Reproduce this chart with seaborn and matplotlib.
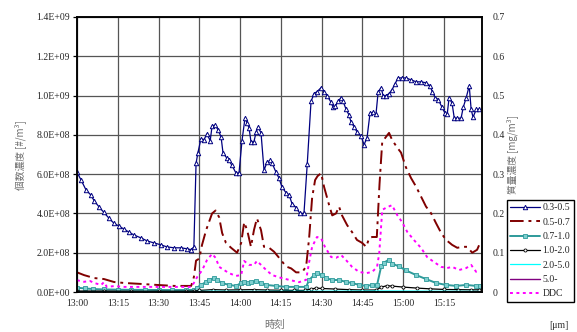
import numpy as np
import pandas as pd
import matplotlib
matplotlib.use("Agg")
import matplotlib.pyplot as plt
import seaborn as sns
from matplotlib.ticker import FuncFormatter

# ---------------- data (minutes after 13:00) ----------------
t_03 = [0, 1.5, 3.3, 5, 6.3, 8, 9.9, 11.8, 13.6, 15.5, 17.3, 19.1, 21, 23.6, 25.8, 28.3, 30.9, 33,
        35.7, 38.3, 40.5, 42, 43, 43.8, 44.5, 45.6, 46.7, 47.8, 49, 49.7, 50.8, 51.9, 53, 53.7, 55.2,
        55.9, 57, 58.5, 59.6, 60.7, 61.8, 62.6, 63.3, 64, 65.1, 65.9, 66.6, 67.7, 68.8, 69.9, 71,
        71.8, 73.2, 74.3, 75.4, 76.9, 78, 79.1, 80.6, 82, 83.5, 84.7, 86.1, 87.2, 88.3, 89.8, 90.9,
        92, 93.5, 94.2, 95, 96, 97.2, 97.9, 99, 100.1, 100.8, 102, 103, 104.5, 105.6, 106.7, 107.8,
        108.9, 110, 110.8, 111.9, 112.6, 113.7, 114.8, 115.9, 117, 118.1, 119.6, 121, 122.9, 124.8,
        126.6, 128.4, 129.9, 130.7, 131.8, 132.9, 134.3, 135.4, 136.2, 136.9, 138, 138.8, 139.9,
        141.3, 142.1, 143.2, 144.3, 145, 145.7, 146.9, 148]
v_03 = [6.1e8, 5.7e8, 5.2e8, 4.95e8, 4.65e8, 4.35e8, 4.05e8, 3.75e8, 3.5e8, 3.35e8, 3.2e8, 3.05e8,
        2.9e8, 2.75e8, 2.6e8, 2.5e8, 2.4e8, 2.3e8, 2.25e8, 2.25e8, 2.2e8, 2.15e8, 2.3e8, 6.55e8,
        7.1e8, 7.8e8, 7.75e8, 8.05e8, 7.7e8, 8.45e8, 8.5e8, 8.25e8, 7.9e8, 7.1e8, 6.8e8, 6.7e8,
        6.45e8, 6.05e8, 6.05e8, 7.7e8, 8.85e8, 8.6e8, 8.35e8, 7.65e8, 7.65e8, 8.15e8, 8.4e8, 8.1e8,
        6.2e8, 6.6e8, 6.7e8, 6.55e8, 6.1e8, 5.8e8, 5.35e8, 5.05e8, 4.95e8, 4.5e8, 4.3e8, 4.0e8,
        4.0e8, 6.5e8, 9.7e8, 1.01e9, 1.02e9, 1.04e9, 1.02e9, 1.0e9, 9.65e8, 9.4e8, 9.45e8, 9.7e8,
        9.9e8, 9.7e8, 9.3e8, 9.0e8, 8.65e8, 8.4e8, 8.15e8, 7.95e8, 7.5e8, 7.85e8, 9.1e8, 9.15e8,
        9.05e8, 1.02e9, 1.04e9, 1.0e9, 1.0e9, 1.01e9, 1.03e9, 1.06e9, 1.09e9, 1.09e9, 1.09e9,
        1.08e9, 1.07e9, 1.07e9, 1.065e9, 1.05e9, 1.02e9, 9.9e8, 9.8e8, 9.4e8, 9.1e8, 9.05e8, 9.9e8,
        9.6e8, 8.85e8, 8.85e8, 8.85e8, 9.4e8, 9.9e8, 1.05e9, 9.3e8, 8.9e8, 9.3e8, 9.3e8]

t_05 = [0, 2.6, 6.3, 9.9, 13.6, 17.3, 23.6, 29.4, 35.7, 42, 43, 43.8, 45, 46, 47.5, 49.7, 51, 52.3,
        53.4, 54.8, 56.7, 58.9, 60.4, 61.5, 62.6, 64, 65.1, 66.2, 67.7, 68.8, 70.7, 72.5, 74.3, 76.9,
        78.8, 80.6, 82.8, 84.3, 85.4, 86.5, 87.6, 88.5, 89.8, 90.9, 92.7, 93.9, 95.3, 96.4, 97.5,
        99.4, 101.2, 103, 104.9, 106.4, 107.5, 108.6, 110.3, 111.3, 112.3, 113.7, 114.8, 115.9,
        117.8, 119.2, 121, 122.9, 124.8, 126.6, 128.4, 130.3, 132.1, 134, 135.8, 138, 139.9, 141.7,
        143.5, 145.4, 147.2, 148.3]
v_05 = [1.0e8, 8.6e7, 7.1e7, 6.6e7, 5.1e7, 4.6e7, 4.1e7, 3.6e7, 3.1e7, 3.1e7, 7.6e7, 1.6e8, 1.7e8,
        2.4e8, 3.15e8, 4.0e8, 4.15e8, 3.8e8, 3.0e8, 2.5e8, 2.25e8, 2.0e8, 2.5e8, 3.55e8, 3.15e8,
        2.3e8, 3.15e8, 3.75e8, 3.15e8, 2.3e8, 2.25e8, 2.05e8, 1.75e8, 1.3e8, 1.2e8, 1.0e8, 1.0e8,
        1.3e8, 2.75e8, 4.8e8, 5.7e8, 5.9e8, 6.05e8, 5.35e8, 4.45e8, 3.9e8, 4.0e8, 4.35e8, 3.9e8,
        3.4e8, 3.05e8, 2.65e8, 2.5e8, 2.3e8, 2.75e8, 2.8e8, 2.8e8, 5.5e8, 7.65e8, 7.9e8, 8.1e8,
        7.75e8, 7.35e8, 7.1e8, 6.35e8, 5.8e8, 5.35e8, 4.85e8, 4.35e8, 4.0e8, 3.5e8, 3.0e8, 2.65e8,
        2.4e8, 2.25e8, 2.3e8, 2.3e8, 2.0e8, 2.15e8, 2.5e8]

t_07 = [0, 3, 6, 10, 15, 20, 25, 30, 35, 40, 43, 44, 45.5, 47.5, 48.6, 50.4, 51.5, 53.4, 55.9, 58.5,
        60.4, 61.5, 63, 64, 65.9, 67.7, 69.6, 73.2, 76.9, 80.6, 84.3, 85.4, 87.2, 88.3, 90.2, 91.6,
        93.9, 96.5, 99, 101.2, 103.8, 106.4, 108.6, 110.4, 111.9, 113, 114.8, 115.9, 118.5, 121,
        124.8, 128.4, 132.1, 135.8, 139.5, 143.2, 146.9, 148.3]
v_07 = [2.2e7, 1.8e7, 1.5e7, 1.3e7, 1.2e7, 1.1e7, 1.1e7, 1.0e7, 1.0e7, 1.0e7, 1.1e7, 2.0e7, 3.5e7,
        5.1e7, 6.1e7, 7.1e7, 6.1e7, 4.6e7, 3.6e7, 3.1e7, 4.6e7, 5.1e7, 4.6e7, 5.1e7, 5.6e7, 4.6e7,
        3.6e7, 3.1e7, 2.6e7, 2.6e7, 2.6e7, 6.1e7, 8.6e7, 9.6e7, 8.6e7, 7.1e7, 6.1e7, 6.1e7, 5.1e7,
        4.6e7, 3.6e7, 3.1e7, 3.6e7, 3.6e7, 1.3e8, 1.5e8, 1.65e8, 1.45e8, 1.3e8, 1.1e8, 8.6e7,
        6.6e7, 4.6e7, 3.6e7, 3.1e7, 3.6e7, 3.1e7, 3.2e7]

t_10 = [0, 10, 20, 30, 40, 43, 45, 50, 55, 60, 65, 70, 75, 80, 84, 86, 88, 90, 95, 100, 105, 110,
        112, 114, 116, 120, 125, 130, 135, 140, 145, 148]
v_10 = [5e6, 5e6, 4e6, 4e6, 4e6, 5e6, 8e6, 1.2e7, 1.0e7, 1.1e7, 1.2e7, 1.0e7, 9e6, 8e6, 8e6, 1.5e7,
        2.0e7, 1.8e7, 1.5e7, 1.2e7, 1.0e7, 1.0e7, 2.5e7, 3.2e7, 3.0e7, 2.5e7, 2.0e7, 1.6e7, 1.3e7,
        1.2e7, 1.1e7, 1.1e7]

t_20 = [0, 43, 50, 60, 90, 115, 148]
v_20 = [2e6, 2e6, 4e6, 3e6, 4e6, 5e6, 3e6]

t_50 = [0, 74, 148]
v_50 = [5e5, 5e5, 5e5]

t_ddc = [0, 2.6, 4.8, 6.3, 8.9, 9.9, 11, 13.6, 17.3, 23.6, 29.4, 35.7, 42, 43, 44.2, 46, 47.8, 49.7,
         51, 52.3, 54.1, 55.9, 58.5, 60.4, 61.5, 63.3, 65.1, 66.2, 67.7, 69.6, 71.8, 75, 78, 81.7,
         84.3, 85.4, 86.5, 88.3, 89.8, 91.2, 93.5, 95.3, 97.2, 99, 101.2, 103.8, 106.4, 108.6,
         110.4, 111.2, 112.3, 114.1, 115.9, 117.8, 119.6, 121.5, 124, 126.6, 128.8, 131.4, 134,
         136.2, 138, 140.6, 143.2, 145, 146.9, 148.3]
v_ddc = [0.030, 0.026, 0.028, 0.023, 0.018, 0.025, 0.013, 0.015, 0.013, 0.013, 0.013, 0.013, 0.013,
         0.023, 0.038, 0.055, 0.081, 0.097, 0.087, 0.064, 0.056, 0.048, 0.041, 0.043, 0.079, 0.069,
         0.069, 0.079, 0.069, 0.056, 0.043, 0.036, 0.031, 0.025, 0.031, 0.076, 0.115, 0.140, 0.137,
         0.115, 0.089, 0.087, 0.094, 0.081, 0.064, 0.051, 0.048, 0.051, 0.064, 0.099, 0.209, 0.216,
         0.221, 0.196, 0.178, 0.153, 0.132, 0.112, 0.089, 0.076, 0.064, 0.061, 0.064, 0.056, 0.061,
         0.069, 0.051, 0.050]

xtick_pos = [0, 15, 30, 45, 60, 75, 90, 105, 120, 135]
xtick_labels = ["13:00", "13:15", "13:30", "13:45", "14:00", "14:15", "14:30", "14:45", "15:00", "15:15"]
legend_labels = ["0.3-0.5", "0.5-0.7", "0.7-1.0", "1.0-2.0", "2.0-5.0", "5.0-", "DDC"]

# ---------------- style ----------------
sns.set_style("white")
plt.rcParams['font.family'] = ['Liberation Serif', 'Noto Sans CJK JP', 'DejaVu Sans']
plt.rcParams['axes.unicode_minus'] = False

W, H = 577, 332
fig = plt.figure(figsize=(W / 100, H / 100), dpi=100)
L, R, T, B = 77, 482, 17, 292
ax = fig.add_axes([L / W, 1 - B / H, (R - L) / W, (B - T) / H])
ax2 = ax.twinx()

sns.lineplot(x=t_03, y=v_03, ax=ax, color="#000080", lw=0.9, marker="^", markersize=3.2,
             markerfacecolor="white", markeredgecolor="#000080", markeredgewidth=0.7,
             label=legend_labels[0], legend=False)
sns.lineplot(x=t_05, y=v_05, ax=ax, color="#800000", lw=1.4, dashes=False,
             label=legend_labels[1], legend=False, linestyle=(0, (7, 2.5, 1.5, 2.5)))
sns.lineplot(x=t_07, y=v_07, ax=ax, color="#2E9A9A", lw=1.4, marker="s", markersize=2.2,
             markerfacecolor="#7FCFCF", markeredgecolor="#2E9A9A", markeredgewidth=0.6,
             label=legend_labels[2], legend=False)
sns.lineplot(x=t_10, y=v_10, ax=ax, color="black", lw=0.9, marker="o", markersize=2.2,
             markerfacecolor="white", markeredgecolor="black", markeredgewidth=0.6,
             label=legend_labels[3], legend=False)
sns.lineplot(x=t_20, y=v_20, ax=ax, color="#00FFFF", lw=0.9, label=legend_labels[4], legend=False)
sns.lineplot(x=t_50, y=v_50, ax=ax, color="#800080", lw=1.0, label=legend_labels[5], legend=False)
sns.lineplot(x=t_ddc, y=v_ddc, ax=ax2, color="#FF00FF", lw=1.4, label=legend_labels[6],
             legend=False, linestyle=(0, (1.5, 1.8)))

# axes
ax.set_xlim(0, 149)
ax.set_ylim(0, 1.4e9)
ax2.set_ylim(0, 0.7)
ax.set_yticks(np.arange(0, 1.41e9, 2e8))
ax2.set_yticks(np.arange(0, 0.71, 0.1))
ax.yaxis.set_major_formatter(FuncFormatter(lambda v, p: f"{v:.1E}"))
ax2.yaxis.set_major_formatter(FuncFormatter(lambda v, p: "0" if abs(v) < 1e-9 else f"{v:.1f}"))
ax.set_xticks(xtick_pos)
ax.set_xticklabels(xtick_labels)
ax.set_xlabel("")
ax.set_ylabel("")
ax2.set_ylabel("")

ax.grid(True, axis="both", color="#555555", lw=0.9)
ax2.grid(False)
ax.tick_params(axis="y", direction="out", length=3, width=0.9, color="black", labelsize=7, pad=2)
ax.tick_params(axis="x", length=0, labelsize=7, pad=5)
ax2.tick_params(axis="y", length=0, labelsize=7, pad=8)
for a in (ax, ax2):
    for s in a.spines.values():
        s.set_color("black")
        s.set_linewidth(1.1)

# labels
cjk = ['Noto Sans CJK JP', 'DejaVu Sans']
fig.text(20 / W, 1 - 155 / H, "個数濃度 [#/m³]", rotation=90, ha="center", va="center",
         fontsize=7, color="#707070", family=cjk)
fig.text(512 / W, 1 - 155 / H, "質量濃度 [mg/m³]", rotation=90, ha="center", va="center",
         fontsize=7, color="#707070", family=cjk)
fig.text(275 / W, 1 - 325 / H, "時刻", ha="center", va="center", fontsize=7.5,
         color="#707070", family=cjk)
fig.text(559 / W, 1 - 325 / H, "[μm]", ha="center", va="center", fontsize=7, color="#333333")

# legend
h1, l1 = ax.get_legend_handles_labels()
h2, l2 = ax2.get_legend_handles_labels()
leg = fig.legend(h1 + h2, l1 + l2, loc="upper left", bbox_to_anchor=(507 / W, 1 - 200 / H),
                 frameon=True, fancybox=False, edgecolor="black", framealpha=1, fontsize=7,
                 handlelength=3.0, labelspacing=0.55, borderpad=0.35, handletextpad=0.3,
                 borderaxespad=0)
leg.get_frame().set_linewidth(1.0)

fig.savefig("out.png", dpi=100)
